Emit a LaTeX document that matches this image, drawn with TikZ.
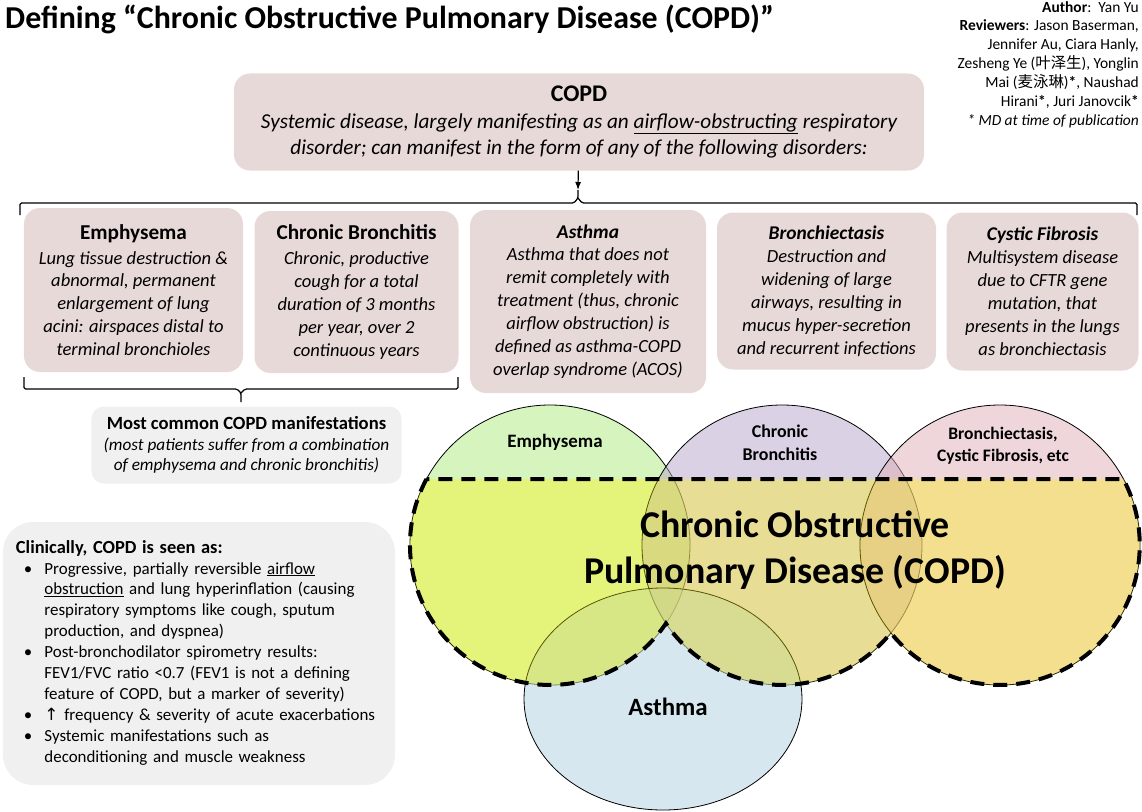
\documentclass[tikz,border=0pt]{standalone}
\usepackage{fontspec}
\setmainfont{Carlito}
\newfontfamily\cjk{Noto Sans CJK SC}
\newfontfamily\symb{DejaVu Sans}
\usetikzlibrary{arrows.meta}

\definecolor{boxpink}{RGB}{232,217,217}
\definecolor{boxgray}{RGB}{240,240,240}
\definecolor{emphgreen}{RGB}{173,235,125}
\definecolor{bronchlav}{RGB}{181,165,201}
\definecolor{bectpink}{RGB}{221,173,181}
\definecolor{asthblue}{RGB}{175,207,223}

\begin{document}
\begin{tikzpicture}[
  x=1bp, y=-1bp,
  >={Latex[length=8bp,width=6bp]},
  pinkbox/.style={fill=boxpink, rounded corners=16bp, inner sep=3bp, align=center,
                  font=\fontsize{18.6}{23}\selectfont\itshape},
  graybox/.style={fill=boxgray, inner sep=3bp},
  bracket/.style={line width=1.2bp, rounded corners=1.5bp},
  venn/.style={fill opacity=0.5, line width=0.8bp},
  vlabel/.style={font=\fontsize{18}{23}\selectfont\bfseries, align=center, inner sep=0pt},
  copdline/.style={line width=4bp, dash pattern=on 14bp off 9bp},
]
  \useasboundingbox (0,0) rectangle (1142,812);

  % Heading and credits
  \node[anchor=base west, inner sep=0pt, font=\fontsize{32}{38}\selectfont\bfseries]
    (title) at (5,29) {Defining “Chronic Obstructive Pulmonary Disease (COPD)”};
  \node[anchor=north east, inner sep=0pt, align=right, font=\fontsize{15.5}{19}\selectfont]
    (credits) at (1139,1) {\textbf{Author}:\ \ Yan Yu\\
    \textbf{Reviewers}: Jason Baserman,\\
    Jennifer Au, Ciara Hanly,\\
    Zesheng Ye ({\cjk 叶泽生}), Yonglin\\
    Mai ({\cjk 麦泳琳})\textbf{*}, Naushad\\
    Hirani\textbf{*}, Juri Janovcik\textbf{*}\\
    \textit{* MD at time of publication}};

  % Top definition
  \node[pinkbox, minimum width=690bp, minimum height=97bp, font=\fontsize{21.3}{27}\selectfont\itshape]
    (copd) at (579,122) {{\fontsize{24}{28}\selectfont\upshape\bfseries COPD}\\
    Systemic disease, largely manifesting as an \underline{airflow-obstructing} respiratory\\
    disorder; can manifest in the form of any of the following disorders:};

  % Brace over the five disorders
  \coordinate (tbTip) at (578,190);
  \draw[bracket] (20,215) |- (574,203) -- (578,198) -- (tbTip)
                 (578,198) -- (582,203) -| (1137,215);
  \draw[->, line width=1.2bp] (copd) -- (tbTip);

  % Disorders
  \node[pinkbox, minimum width=219bp, minimum height=164bp] (emph) at (133.5,290)
    {{\fontsize{21.3}{25}\selectfont\upshape\bfseries Emphysema}\\[2bp]
    Lung tissue destruction \&\\ abnormal, permanent\\ enlargement of lung\\
    acini: airspaces distal to\\ terminal bronchioles};
  \node[pinkbox, minimum width=204bp, minimum height=162bp] (chronbr) at (356.5,292)
    {{\fontsize{21.3}{25}\selectfont\upshape\bfseries Chronic Bronchitis}\\[2bp]
    Chronic, productive\\ cough for a total\\ duration of 3 months\\
    per year, over 2\\ continuous years};
  \node[pinkbox, minimum width=236bp, minimum height=183bp] (asthma) at (588,301.5)
    {{\fontsize{19.5}{25}\selectfont\bfseries Asthma}\\
    Asthma that does not\\ remit completely with\\ treatment (thus, chronic\\
    airflow obstruction) is\\ defined as asthma-COPD\\ overlap syndrome (ACOS)};
  \node[pinkbox, minimum width=219bp, minimum height=157bp] (bronchi) at (826.5,291)
    {{\fontsize{19.5}{25}\selectfont\bfseries Bronchiectasis}\\
    Destruction and\\ widening of large\\ airways, resulting in\\
    mucus hyper-secretion\\ and recurrent infections};
  \node[pinkbox, minimum width=192bp, minimum height=158bp] (cystic) at (1042.5,291.5)
    {{\fontsize{19.5}{25}\selectfont\bfseries Cystic Fibrosis}\\
    Multisystem disease\\ due to CFTR gene\\ mutation, that\\
    presents in the lungs\\ as bronchiectasis};

  % Brace under the two common ones
  \coordinate (bbTip) at (241,402);
  \draw[bracket] (24,377) |- (237,389) -- (241,393) -- (bbTip)
                 (241,393) -- (245,389) -| (458,377);
  \node[graybox, rounded corners=12bp, minimum width=310bp, minimum height=77bp,
        align=center, font=\fontsize{17.3}{20.5}\selectfont\itshape] (common) at (246.5,445)
    {{\fontsize{18.7}{21}\selectfont\upshape\bfseries Most common COPD manifestations}\\
    (most patients suffer from a combination\\ of emphysema and chronic bronchitis)};

  % Clinical picture
  \node[graybox, rounded corners=30bp, minimum width=392bp, minimum height=263bp,
        text width=366bp, align=left, font=\fontsize{17}{21}\selectfont] (clinical) at (199,653.5)
    {\begin{tabular}{@{\hspace{8bp}}l@{\hspace{12bp}}l@{}}
    \multicolumn{2}{@{}l@{}}{\fontsize{18.5}{21}\selectfont\bfseries Clinically, COPD is seen as:}\\
    • & Progressive, partially reversible \underline{airflow}\\
      & \underline{obstruction} and lung hyperinflation (causing\\
      & respiratory symptoms like cough, sputum\\
      & production, and dyspnea)\\
    • & Post-bronchodilator spirometry results:\\
      & FEV1/FVC ratio <0.7 (FEV1 is not a defining\\
      & feature of COPD, but a marker of severity)\\
    • & {\symb ↑} frequency \& severity of acute exacerbations\\
    • & Systemic manifestations such as\\
      & deconditioning and muscle weakness
    \end{tabular}};

  % Venn diagram
  \draw[venn, fill=emphgreen] (550,545) circle[radius=140];
  \draw[venn, fill=bronchlav] (782,545) circle[radius=140];
  \draw[venn, fill=bectpink] (1000,545) circle[radius=140];
  \draw[venn, fill=asthblue] (663,699) ellipse[x radius=139, y radius=111];
  \begin{scope}
    \clip (550,545) circle[radius=140] (782,545) circle[radius=140] (1000,545) circle[radius=140];
    \fill[yellow, opacity=0.35] (400,479) rectangle (1142,700);
  \end{scope}
  \draw[copdline] (426.5,479) arc[start angle=208.1, end angle=34.1, radius=140]
    arc[start angle=145.9, end angle=38.9, radius=140]
    arc[start angle=141.1, end angle=-28.1, radius=140] -- cycle;

  \node[vlabel, font=\fontsize{19}{23}\selectfont\bfseries] (vemph) at (555,442) {Emphysema};
  \node[vlabel] (vchron) at (780,443) {Chronic\\Bronchitis};
  \node[vlabel, font=\fontsize{17.6}{22}\selectfont\bfseries] (vbron) at (1003,446)
    {Bronchiectasis,\\Cystic Fibrosis, etc};
  \node[vlabel, font=\fontsize{38}{46}\selectfont\bfseries] (vcopd) at (795,550)
    {Chronic Obstructive\\Pulmonary Disease (COPD)};
  \node[vlabel, font=\fontsize{25}{30}\selectfont\bfseries] (vasth) at (668,707) {Asthma};
\end{tikzpicture}
\end{document}
